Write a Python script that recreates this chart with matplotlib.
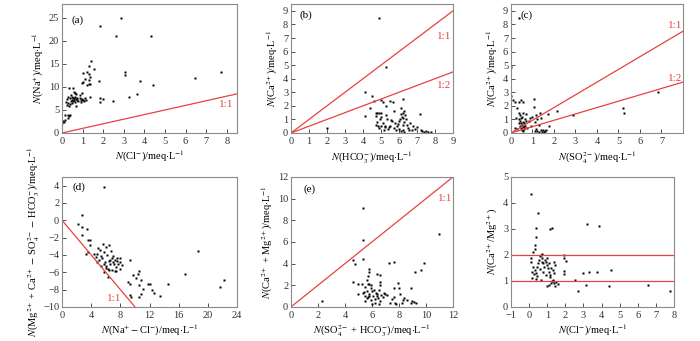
import numpy as np
import matplotlib
matplotlib.use('Agg')
import matplotlib.pyplot as plt

plt.rcParams['font.family'] = ['Liberation Serif', 'DejaVu Serif']
plt.rcParams['mathtext.fontset'] = 'stix'
plt.rcParams['font.size'] = 7.5

RED = '#e8413f'

# (a) N(Cl-) vs N(Na+)
a_cl = [2.87, 1.85, 2.63, 4.34, 1.42, 1.56, 1.29, 1.2, 1.0, 1.3, 1.35, 1.3, 1.1, 1.0, 0.95, 1.35, 1.3, 1.2,
        3.08, 3.08, 7.7, 6.48, 1.82, 3.8, 4.44, 3.66, 3.24, 2.48, 2.0, 1.84, 1.84, 1.37,
        0.35, 0.55, 0.6, 0.65, 0.7, 0.45, 0.5, 0.3, 0.4, 0.55, 0.6, 0.7, 0.75, 0.8, 0.85, 0.9, 0.95, 1.0,
        1.05, 1.15, 0.65, 0.5, 0.4, 0.35, 0.25, 0.3, 0.7, 0.9, 1.1, 0.45, 0.55, 0.2, 0.25, 0.15, 0.3,
        0.35, 0.4, 0.3, 0.05, 0.1, 0.02, 0.15, 0.6, 0.85, 0.75, 0.5, 0.95, 0.65]
a_na = [24.9, 23.2, 21.0, 21.0, 15.7, 13.9, 14.5, 13.3, 13.1, 12.8, 12.1, 11.6, 11.7, 11.1, 10.9, 10.6, 10.6, 10.4,
        13.2, 12.7, 13.3, 11.9, 11.4, 11.2, 10.5, 8.4, 7.9, 7.05, 7.4, 7.6, 6.8, 7.8,
        9.8, 9.8, 9.0, 8.7, 8.4, 8.2, 7.9, 7.8, 7.5, 7.5, 7.2, 7.3, 7.7, 7.0, 7.5, 7.1, 7.4, 7.2,
        6.9, 7.1, 6.8, 6.5, 6.2, 5.8, 6.0, 6.5, 5.9, 6.7, 7.5, 7.0, 6.9, 6.8, 7.3, 4.0, 3.8,
        3.6, 4.0, 3.2, 2.7, 2.4, 2.1, 2.9, 7.6, 8.2, 7.2, 7.1, 8.6, 7.8]

# (b) N(HCO3-) vs N(Ca2+)
b_hco3 = [4.9, 5.3, 2.0, 4.1, 4.5, 4.6, 5.0, 5.1, 5.5, 5.65, 6.2, 6.1, 5.3, 4.4, 4.1, 4.7, 4.8, 4.9, 5.0,
          4.75, 4.95, 4.8, 4.7, 4.85, 5.0, 5.1, 5.2, 5.3, 5.35, 5.4, 5.5, 5.6, 5.7, 5.75, 5.8, 5.9, 6.0,
          6.05, 6.1, 6.15, 6.2, 6.25, 6.3, 6.35, 6.4, 6.0, 6.1, 6.2, 6.3, 6.5, 6.6, 6.7, 6.8, 6.9, 7.0,
          7.15, 7.2, 7.3, 7.4, 7.5, 7.6, 7.8, 5.55, 5.45, 4.9, 5.15, 5.85, 6.45, 6.55, 5.0, 5.25, 5.95,
          6.3, 6.2]
b_ca = [8.5, 4.9, 0.4, 3.0, 2.7, 2.35, 2.45, 2.25, 2.35, 2.3, 2.5, 1.85, 2.0, 1.85, 1.25, 1.5, 1.5, 1.45, 1.5,
        1.25, 1.0, 0.8, 0.6, 0.5, 0.55, 0.7, 0.55, 1.3, 1.05, 0.3, 0.55, 0.9, 1.65, 0.4, 0.7, 0.5, 0.9,
        1.0, 1.4, 1.2, 1.5, 1.1, 0.8, 1.3, 1.0, 0.3, 0.15, 0.2, 0.1, 0.4, 0.7, 0.2, 0.5, 0.3, 0.45,
        1.4, 0.2, 0.15, 0.1, 0.15, 0.1, 0.1, 0.95, 0.45, 0.35, 0.2, 0.2, 0.6, 0.2, 1.2, 0.45, 0.65,
        1.6, 0.6]

# (c) N(SO4 2-) vs N(Ca2+)
c_so4 = [0.35, 0.0, 0.0, 0.1, 0.2, 0.35, 0.45, 0.55, 1.05, 1.05, 0.3, 0.35, 0.4, 0.55, 0.7, 0.25, 0.35, 0.4,
         0.45, 0.5, 0.55, 0.6, 0.65, 0.4, 0.45, 0.5, 0.55, 0.6, 0.3, 0.2, 0.35, 0.45, 0.5, 0.7, 0.85, 0.9,
         1.0, 1.1, 1.15, 1.2, 1.3, 1.35, 1.4, 1.15, 1.2, 1.3, 1.4, 1.45, 1.5, 1.6, 1.55, 1.65, 1.7, 1.75,
         2.15, 2.9, 5.2, 5.25, 6.85, 0.6, 0.65, 0.75, 1.1, 0.55, 0.95]
c_ca = [8.5, 4.9, 2.7, 2.4, 2.3, 2.3, 2.4, 2.3, 2.5, 1.9, 1.85, 1.5, 1.3, 1.5, 1.4, 1.1, 1.0, 0.9,
        0.7, 0.6, 0.8, 0.7, 0.5, 0.5, 0.35, 0.25, 0.15, 0.3, 0.3, 0.4, 0.7, 1.1, 1.2, 0.9, 0.9, 1.1,
        1.2, 0.8, 1.3, 1.0, 0.6, 1.5, 1.1, 0.3, 0.15, 0.1, 0.2, 0.1, 0.25, 0.15, 0.05, 0.2, 1.4, 0.5,
        1.65, 1.3, 1.85, 1.45, 3.0, 0.55, 1.0, 0.4, 0.15, 0.45, 0.5]

# (d) N(Na+ - Cl-) vs N(Mg2+ + Ca2+ - SO4 2- - HCO3-)
d_x = [2.2, 2.8, 2.7, 3.4, 2.7, 5.8, 3.6, 3.8, 3.85, 3.6, 3.3, 4.8, 5.8, 7.4, 6.25, 7.9, 9.3, 9.1, 9.35,
       9.7, 10.4, 10.6, 10.2, 10.9, 10.5, 11.1, 9.3, 9.5, 10.5, 10.9, 11.8, 12.1, 12.4, 12.6, 13.4, 14.5,
       16.8, 18.6, 21.6, 22.2,
       4.6, 4.8, 5.0, 5.2, 5.3, 5.5, 5.6, 5.8, 6.0, 6.2, 6.4, 6.5, 6.6, 6.7, 6.8, 7.0, 7.1, 7.2, 7.4,
       7.5, 7.7, 7.9, 8.2, 5.9, 6.1, 6.3, 6.5, 6.9, 7.3, 5.4, 5.7, 6.0, 6.6, 7.0, 4.4, 5.1, 7.6, 8.0]
d_y = [-0.42, 0.65, -0.77, -1.0, -1.7, 3.9, -2.3, -2.3, -2.8, -3.7, -3.9, -4.8, -6.0, -5.9, -6.5, -4.4, -4.6,
       -7.1, -7.3, -6.3, -6.2, -5.9, -6.7, -6.9, -7.5, -7.9, -8.6, -8.85, -8.9, -8.5, -7.3, -7.3, -8.1, -8.4,
       -8.7, -7.4, -6.2, -3.6, -7.7, -6.9,
       -4.2, -3.9, -3.2, -3.4, -4.1, -4.4, -2.7, -3.7, -3.1, -4.0, -4.7, -2.8, -5.0, -3.6, -4.4, -4.1,
       -5.1, -4.6, -5.4, -4.3, -5.0, -5.6, -5.2, -4.8, -5.3, -5.6, -5.7, -5.7, -5.8, -5.3, -5.0, -5.5,
       -4.6, -4.8, -3.9, -4.6, -4.7, -4.8]

# (e) N(SO4 2- + HCO3-) vs N(Ca2+ + Mg2+)
e_x = [5.35, 5.36, 11.0, 4.57, 4.74, 5.3, 7.28, 7.65, 9.88, 9.6, 9.2, 5.8, 5.8, 5.7, 6.4, 6.6, 4.57, 4.95,
       5.25, 5.6, 5.7, 5.8, 5.9, 6.6, 6.6, 7.9, 8.9, 7.6, 8.0, 5.0, 5.36, 9.1, 9.25, 9.0, 2.27, 8.2, 8.4,
       8.6, 8.3, 7.3, 7.7,
       5.4, 5.5, 5.6, 5.65, 5.75, 5.9, 6.0, 6.1, 6.2, 6.3, 6.45, 6.55, 6.7, 6.8, 6.9, 7.0, 7.5, 7.8, 8.1,
       5.5, 5.9, 6.2, 6.4, 6.6, 5.7, 6.0, 6.35, 7.1, 7.6, 8.9, 5.45, 6.15, 6.5, 5.8]
e_y = [9.1, 6.15, 6.7, 4.31, 4.0, 4.4, 4.03, 4.19, 4.1, 3.4, 3.2, 3.5, 3.2, 2.9, 3.0, 2.95, 2.3, 2.1,
       2.15, 2.5, 2.1, 2.1, 2.05, 2.3, 2.0, 2.2, 1.7, 1.7, 1.75, 1.15, 1.25, 0.45, 0.4, 0.5, 0.55, 0.4, 0.8,
       0.6, 0.65, 0.4, 0.4,
       1.4, 1.0, 0.8, 1.5, 1.2, 0.6, 1.45, 1.0, 0.4, 1.3, 0.8, 1.6, 1.1, 0.9, 1.3, 1.2, 0.7, 0.3, 1.2,
       0.5, 1.7, 0.7, 1.2, 0.5, 0.9, 0.3, 1.0, 1.1, 0.9, 0.35, 1.8, 1.6, 0.25, 1.0]

# (f) N(Cl-) vs N(Ca2+/Mg2+)
f_cl = [0.09, 0.51, 0.37, 0.4, 0.35, 0.3, 0.24, 1.17, 1.26, 3.17, 3.87, 1.9, 1.94, 2.05, 1.9, 1.9, 2.55,
        2.68, 2.96, 3.33, 3.72, 4.5, 3.15, 4.42, 6.57, 7.77,
        0.09, 0.1, 0.14, 0.23, 0.33, 0.38, 0.42, 0.46, 0.51, 0.56, 0.6, 0.64, 0.69, 0.73, 0.69, 0.79, 0.84,
        0.88, 0.92, 0.97, 1.03, 1.1, 1.15, 1.15, 0.97, 1.12, 1.21, 1.34, 1.39, 1.43, 1.38, 0.93, 0.75,
        0.6, 0.27, 0.18, 0.36, 0.66,
        1.01, 1.12, 1.19, 1.25, 1.34, 1.38, 1.43, 1.49, 1.62, 1.3]
f_ratio = [4.35, 3.63, 3.03, 2.7, 2.38, 2.23, 2.13, 3.0, 3.04, 3.2, 3.11, 2.0, 1.88, 1.76, 1.4, 1.27, 1.04,
           0.6, 1.3, 1.34, 1.34, 1.43, 0.85, 0.8, 0.85, 0.6,
           1.9, 1.72, 1.33, 1.55, 1.42, 1.3, 1.17, 1.55, 1.68, 1.81, 1.94, 2.0, 2.03, 1.87, 1.72, 1.68, 1.55,
           1.81, 1.72, 1.62, 1.49, 1.36, 1.23, 1.15, 1.87, 1.68, 1.51, 1.42, 1.72, 1.62, 1.3, 1.23, 1.36,
           1.46, 1.26, 1.1, 1.08, 1.05,
           0.81, 0.85, 0.91, 0.98, 0.98, 0.91, 0.82, 0.95, 0.88, 1.04]

UNIT = r'/meq$\cdot$L$^{-1}$'


def style(ax, xlim, ylim, xticks, yticks):
    ax.set_xlim(xlim)
    ax.set_ylim(ylim)
    ax.set_xticks(xticks)
    ax.set_yticks(yticks)
    ax.tick_params(direction='in', length=3, width=0.6, colors='#333333', labelsize=7.5)
    ax.tick_params(axis='x', pad=3)
    ax.tick_params(axis='y', pad=2)
    for s in ax.spines.values():
        s.set_color('#8a8a8a')
        s.set_linewidth(0.8)


def pts(ax, x, y):
    ax.plot(x, y, ls='none', marker='s', ms=1.8, color='black', mec='none')


fig = plt.figure(figsize=(7.0, 3.41), dpi=100)

top_b, top_h = 0.61, 0.378
bot_b, bot_h = 0.1, 0.381

ax = fig.add_axes([0.0886, top_b, 0.25, top_h])
pts(ax, a_cl, a_na)
ax.plot([0, 8.5], [0, 8.5], color=RED, lw=0.9)
ax.text(7.6, 5.6, '1:1', color=RED, fontsize=8)
ax.text(0.45, 25.6, '(a)', fontsize=8, va='top')
style(ax, (0, 8.5), (0, 28), range(0, 9), range(0, 26, 5))
ax.set_xlabel(r'$N$(Cl$^{-}$)' + UNIT, labelpad=2)
ax.set_ylabel(r'$N$(Na$^{+}$)' + UNIT, labelpad=2)

ax = fig.add_axes([0.4157, top_b, 0.2314, top_h])
pts(ax, b_hco3, b_ca)
ax.plot([0, 9], [0, 9], color=RED, lw=0.9)
ax.plot([0, 9], [0, 4.5], color=RED, lw=0.9)
ax.text(8.1, 6.95, '1:1', color=RED, fontsize=8)
ax.text(8.1, 3.3, '1:2', color=RED, fontsize=8)
ax.text(0.45, 9.05, '(b)', fontsize=8, va='top')
style(ax, (0, 9), (0, 9.5), range(0, 10), range(0, 10))
ax.set_xlabel(r'$N$(HCO$_3^{-}$)' + UNIT, labelpad=2)
ax.set_ylabel(r'$N$(Ca$^{2+}$)' + UNIT, labelpad=2)

ax = fig.add_axes([0.73, top_b, 0.2457, top_h])
pts(ax, c_so4, c_ca)
ax.plot([0, 8], [0, 7.5], color=RED, lw=0.9)
ax.plot([0, 8], [0, 3.75], color=RED, lw=0.9)
ax.text(7.3, 7.75, '1:1', color=RED, fontsize=8)
ax.text(7.3, 3.8, '1:2', color=RED, fontsize=8)
ax.text(0.45, 9.05, '(c)', fontsize=8, va='top')
style(ax, (0, 8), (0, 9.5), range(0, 8), range(0, 10))
ax.set_xlabel(r'$N$(SO$_4^{2-}$)' + UNIT, labelpad=2)
ax.set_ylabel(r'$N$(Ca$^{2+}$)' + UNIT, labelpad=2)

ax = fig.add_axes([0.0886, bot_b, 0.25, bot_h])
pts(ax, d_x, d_y)
ax.plot([0, 10.2], [0, -10.2], color=RED, lw=0.9)
ax.text(6.2, -9.3, '1:1', color=RED, fontsize=8)
ax.text(1.5, 4.4, '(d)', fontsize=8, va='top')
style(ax, (0, 24), (-10, 5), range(0, 25, 4), range(-10, 5, 2))
ax.set_xlabel(r'$N$(Na$^{+}-$Cl$^{-}$)' + UNIT, labelpad=2)
ax.set_ylabel(r'$N$(Mg$^{2+}$ + Ca$^{2+}$ $-$ SO$_4^{2-}$ $-$ HCO$_3^{-}$)' + UNIT, labelpad=1)

ax = fig.add_axes([0.4157, bot_b, 0.2314, bot_h])
pts(ax, e_x, e_y)
ax.plot([0, 12], [0, 12], color=RED, lw=0.9)
ax.text(10.9, 9.8, '1:1', color=RED, fontsize=8)
ax.text(0.9, 11.3, '(e)', fontsize=8, va='top')
style(ax, (0, 12), (0, 12), range(0, 13, 2), range(0, 13, 2))
ax.set_xlabel(r'$N$(SO$_4^{2-}$ + HCO$_3^{-}$)' + UNIT, labelpad=2)
ax.set_ylabel(r'$N$(Ca$^{2+}$ + Mg$^{2+}$)' + UNIT, labelpad=2)

ax = fig.add_axes([0.73, bot_b, 0.233, bot_h])
pts(ax, f_cl, f_ratio)
ax.axhline(2, color=RED, lw=0.9)
ax.axhline(1, color=RED, lw=0.9)
style(ax, (-1, 8), (0, 5), range(-1, 9), range(0, 6))
ax.set_xlabel(r'$N$(Cl$^{-}$)' + UNIT, labelpad=2)
ax.set_ylabel(r'$N$(Ca$^{2+}$/Mg$^{2+}$)', labelpad=2)

fig.savefig('out.png', dpi=100)
